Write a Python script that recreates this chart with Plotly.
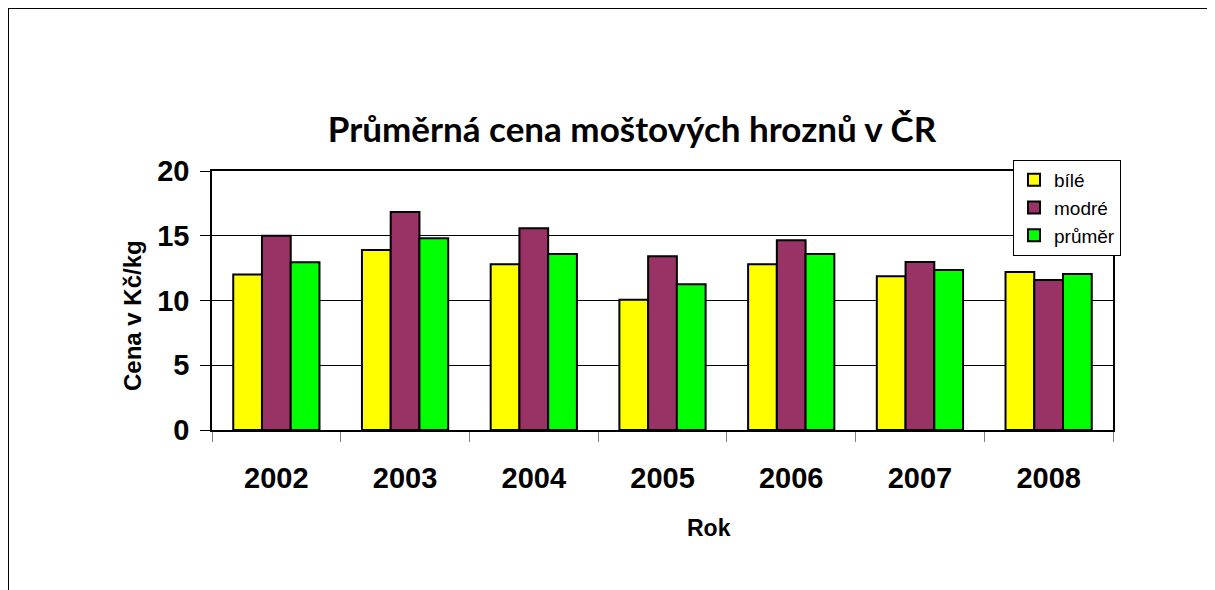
import plotly.graph_objects as go

roky = ["2002", "2003", "2004", "2005", "2006", "2007", "2008"]
bile = [12.0, 13.9, 12.8, 10.05, 12.8, 11.87, 12.2]
modre = [15.0, 16.83, 15.57, 13.41, 14.65, 12.97, 11.58]
prumer = [12.95, 14.8, 13.6, 11.25, 13.59, 12.36, 12.05]

# page has an 8px body margin, so the figure is drawn from (8, 8)
OFF = 8
W, H = 1215 - OFF, 590 - OFF
L, R, T, B = 212 - OFF, 1215 - 1113, 171 - OFF, 590 - 430
pw, ph = W - L - R, H - T - B


def px_x(x):
    return (x - OFF - L) / pw


def px_y(y):
    return (H - B - (y - OFF)) / ph


fig = go.Figure()
for name, vals, col in [("bílé", bile, "#FFFF00"),
                        ("modré", modre, "#993366"),
                        ("průměr", prumer, "#00FF00")]:
    fig.add_trace(go.Bar(x=roky, y=vals, name=name,
                         marker=dict(color=col, line=dict(color="black", width=2))))

fig.update_layout(
    width=W, height=H,
    margin=dict(l=L, r=R, t=T, b=B),
    paper_bgcolor="white", plot_bgcolor="white",
    barmode="group", bargap=0.33, bargroupgap=0,
    title=dict(text="<b>Průměrná cena moštových hroznů v ČR</b>",
               font=dict(family="Lato", size=35, color="black"),
               xref="container", x=(632 - OFF) / W, xanchor="center",
               yref="container", y=1 - (130 - OFF) / H, yanchor="middle"),
    legend=dict(x=px_x(1013), y=px_y(160), xanchor="left", yanchor="top",
                bgcolor="white", bordercolor="black", borderwidth=1,
                font=dict(family="Liberation Sans", size=19, color="black"),
                tracegroupgap=0, itemwidth=30),
    font=dict(family="Liberation Sans", color="black"),
    showlegend=True,
)

fig.update_xaxes(
    type="category", tickson="boundaries", ticks="outside", ticklen=10,
    tickcolor="#808080", showline=True, linecolor="black", linewidth=1.5, mirror=True,
    tickfont=dict(family="Liberation Sans", size=29, color="black"),
    tickprefix="<b>", ticksuffix="</b>", ticklabelstandoff=21,
)
fig.update_yaxes(
    range=[0, 20], dtick=5, ticks="outside", ticklen=10, tickcolor="black",
    showgrid=True, gridcolor="black", gridwidth=1.2,
    showline=True, linecolor="black", linewidth=1.5, mirror=True,
    tickfont=dict(family="Liberation Sans", size=29, color="black"),
    tickprefix="<b>", ticksuffix="</b>", ticklabelstandoff=5,
)

# axis titles placed where the original has them (not centred on the plot)
fig.add_annotation(text="<b>Rok</b>", xref="paper", yref="paper",
                   x=px_x(709), y=px_y(528), xanchor="center", yanchor="middle",
                   showarrow=False,
                   font=dict(family="Liberation Sans", size=23, color="black"))
fig.add_annotation(text="<b>Cena v Kč/kg</b>", xref="paper", yref="paper",
                   x=px_x(132), y=px_y(316), xanchor="center", yanchor="middle",
                   showarrow=False, textangle=-90,
                   font=dict(family="Liberation Sans", size=24, color="black"))

fig.add_shape(type="rect", xref="paper", yref="paper",
              x0=px_x(8), x1=px_x(1240), y0=px_y(620), y1=px_y(8),
              line=dict(color="black", width=2), fillcolor="rgba(0,0,0,0)", layer="below")

fig.write_html("out.html")
